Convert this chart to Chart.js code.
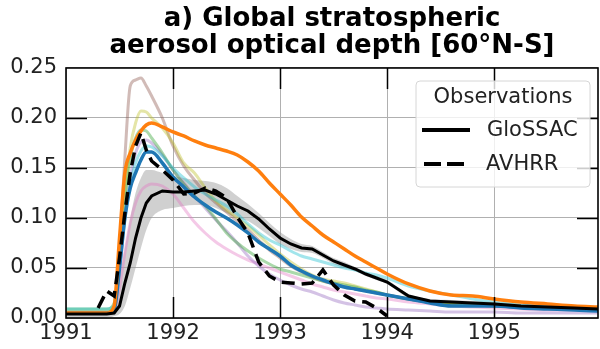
<!DOCTYPE html>
<html>
<head>
<meta charset="utf-8">
<script src="https://cdn.jsdelivr.net/npm/chart.js@4"></script>
<style>
  html, body { margin: 0; padding: 0; background: #ffffff; }
  #wrap { width: 600px; height: 349px; }
</style>
</head>
<body>
<div id="wrap"><canvas id="c" width="600" height="349"></canvas></div>
<script>
// Time axis shared by every series (decimal years)
const years = [
  1991.0, 1991.3, 1991.38, 1991.45, 1991.5, 1991.55, 1991.6, 1991.65, 1991.7, 1991.75, 1991.8, 1991.9,
  1992.0, 1992.1, 1992.2, 1992.3, 1992.4, 1992.5, 1992.6, 1992.7, 1992.8, 1992.9,
  1993.0, 1993.1, 1993.2, 1993.3, 1993.4, 1993.5, 1993.6, 1993.7, 1993.8, 1993.9,
  1994.0, 1994.2, 1994.4, 1994.6, 1994.8, 1995.0, 1995.25, 1995.5, 1995.75, 1995.97
];

// Observations
const glossac = [
  0.004,0.004,0.004,0.005,0.012,0.035,0.055,0.080,0.100,0.115,0.122,0.127,
  0.126,0.126,0.127,0.128,0.124,0.118,0.112,0.107,0.099,0.089,
  0.080,0.074,0.070,0.069,0.063,0.057,0.053,0.049,0.044,0.040,
  0.036,0.022,0.017,0.016,0.015,0.014,0.012,0.011,0.010,0.009
];
const glossacHigh = [
  0.006,0.006,0.006,0.010,0.040,0.070,0.100,0.125,0.140,0.148,0.148,0.145,
  0.142,0.140,0.138,0.137,0.135,0.130,0.122,0.114,0.105,0.095,
  0.086,0.079,0.074,0.072,0.066,0.060,0.056,0.051,0.046,0.042,
  0.038,0.024,0.019,0.018,0.017,0.016,0.014,0.013,0.012,0.011
];
const glossacLow = [
  0.000,0.000,0.000,0.002,0.004,0.012,0.030,0.050,0.070,0.088,0.100,0.108,
  0.110,0.112,0.113,0.113,0.110,0.105,0.100,0.097,0.090,0.082,
  0.074,0.069,0.066,0.065,0.060,0.054,0.050,0.047,0.042,0.038,
  0.034,0.020,0.015,0.014,0.013,0.012,0.010,0.009,0.008,0.007
];
const avhrr = [
  null,0.010,0.027,0.022,0.060,0.105,0.145,0.172,0.185,0.168,0.157,0.148,
  0.138,0.124,0.125,0.130,0.127,0.120,0.101,0.085,0.056,0.042,
  0.036,0.035,0.034,0.035,0.048,0.033,0.023,0.017,0.016,0.010,
  0.002,null,null,null,null,null,null,null,null,null
];

// Model runs
const modelBlue = [
  0.005,0.005,0.005,0.008,0.050,0.100,0.130,0.145,0.158,0.166,0.166,0.155,
  0.141,0.131,0.121,0.113,0.106,0.100,0.093,0.085,0.076,0.069,
  0.062,0.053,0.047,0.042,0.038,0.034,0.031,0.029,0.027,0.025,
  0.023,0.019,0.015,0.012,0.012,0.012,0.010,0.009,0.008,0.007
];
const modelOrange = [
  0.005,0.005,0.005,0.012,0.080,0.145,0.165,0.178,0.187,0.193,0.195,0.191,
  0.186,0.182,0.177,0.173,0.170,0.167,0.163,0.156,0.147,0.135,
  0.124,0.113,0.101,0.092,0.083,0.076,0.069,0.062,0.056,0.050,
  0.044,0.034,0.027,0.023,0.022,0.019,0.016,0.014,0.012,0.011
];
const modelBrown = [
  0.006,0.006,0.006,0.010,0.070,0.160,0.232,0.238,0.240,0.232,0.222,0.200,
  0.172,0.152,0.138,0.125,0.115,0.106,0.097,0.088,0.078,0.068,
  0.060,0.052,0.046,0.041,0.037,0.034,0.031,0.029,0.027,0.025,
  0.023,0.019,0.016,0.014,0.013,0.012,0.011,0.010,0.009,0.008
];
const modelOlive = [
  0.006,0.006,0.006,0.010,0.060,0.120,0.170,0.195,0.207,0.206,0.200,0.190,
  0.175,0.155,0.145,0.130,0.117,0.108,0.100,0.092,0.083,0.073,
  0.064,0.056,0.049,0.043,0.039,0.037,0.035,0.032,0.029,0.026,
  0.023,0.019,0.016,0.014,0.013,0.012,0.011,0.010,0.009,0.008
];
const modelGreen = [
  0.009,0.009,0.009,0.015,0.070,0.120,0.160,0.180,0.188,0.187,0.180,0.165,
  0.148,0.134,0.122,0.112,0.099,0.085,0.075,0.067,0.060,0.054,
  0.049,0.046,0.043,0.040,0.037,0.035,0.033,0.031,0.028,0.026,
  0.023,0.019,0.016,0.014,0.013,0.012,0.011,0.010,0.009,0.009
];
const modelPurple = [
  0.005,0.005,0.005,0.008,0.050,0.100,0.140,0.165,0.176,0.178,0.175,0.163,
  0.148,0.135,0.122,0.110,0.098,0.087,0.075,0.062,0.052,0.044,
  0.038,0.033,0.029,0.026,0.022,0.018,0.015,0.013,0.011,0.010,
  0.009,0.008,0.007,0.006,0.006,0.006,0.005,0.005,0.005,0.005
];
const modelCyan = [
  0.009,0.009,0.009,0.012,0.050,0.100,0.135,0.155,0.167,0.172,0.171,0.162,
  0.150,0.140,0.131,0.124,0.118,0.112,0.104,0.094,0.085,0.078,
  0.073,0.067,0.062,0.059,0.056,0.053,0.050,0.048,0.045,0.043,
  0.040,0.032,0.027,0.023,0.019,0.016,0.013,0.011,0.010,0.009
];
const modelPink = [
  0.005,0.005,0.005,0.007,0.030,0.065,0.095,0.115,0.127,0.132,0.134,0.132,
  0.124,0.110,0.096,0.085,0.076,0.069,0.063,0.058,0.054,0.050,
  0.046,0.042,0.038,0.034,0.031,0.028,0.026,0.024,0.022,0.020,
  0.019,0.016,0.014,0.012,0.011,0.010,0.009,0.008,0.008,0.007
];

// Axis ticks
const yearTicks = [1991, 1992, 1993, 1994, 1995];
const aodTicks = [0.00, 0.05, 0.10, 0.15, 0.20, 0.25];

const titleLines = ['a) Global stratospheric', 'aerosol optical depth [60°N-S]'];
const legendTitle = 'Observations';
const legendLabels = ['GloSSAC', 'AVHRR'];

const FONT = "'DejaVu Sans', 'Liberation Sans', sans-serif";
Chart.defaults.font.family = FONT;

const pts = vals => years.map((x, i) => ({ x: x, y: vals[i] }));

function modelLine(vals, color, order) {
  return {
    data: pts(vals), borderColor: color, borderWidth: 3, pointRadius: 0,
    cubicInterpolationMode: 'monotone', fill: false, order: order
  };
}

const datasets = [
  // 0: lower edge of GloSSAC range
  { data: pts(glossacLow), borderWidth: 0, borderColor: 'rgba(0,0,0,0)', pointRadius: 0,
    cubicInterpolationMode: 'monotone', fill: false, order: 30 },
  // 1: upper edge, filled down to the lower edge
  { data: pts(glossacHigh), borderWidth: 0, borderColor: 'rgba(0,0,0,0)', pointRadius: 0,
    cubicInterpolationMode: 'monotone', fill: { target: 0 },
    backgroundColor: 'rgba(150,150,150,0.45)', order: 29 },
  modelLine(modelBrown,  'rgba(140,86,75,0.4)',  12),
  modelLine(modelOlive,  'rgba(188,189,34,0.4)', 11),
  modelLine(modelPink,   'rgba(227,119,194,0.4)',10),
  modelLine(modelPurple, 'rgba(148,103,189,0.4)', 9),
  modelLine(modelGreen,  'rgba(44,160,44,0.4)',   8),
  modelLine(modelCyan,   'rgba(23,190,207,0.4)',  7),
  { data: pts(modelBlue), borderColor: '#1f77b4', borderWidth: 3.5, pointRadius: 0,
    cubicInterpolationMode: 'monotone', fill: false, order: 4 },
  { data: pts(modelOrange), borderColor: '#ff7f0e', borderWidth: 3.5, pointRadius: 0,
    cubicInterpolationMode: 'monotone', fill: false, order: 3 },
  { data: pts(glossac), borderColor: '#000000', borderWidth: 3, pointRadius: 0,
    tension: 0, fill: false, order: 1 },
  { data: pts(avhrr), borderColor: '#000000', borderWidth: 3.5, pointRadius: 0,
    borderDash: [13, 7], tension: 0, fill: false, spanGaps: false, order: 0 }
];

const TICK_LEN = 21;

// Frame: four spines plus inward-pointing tick marks on every side
const framePlugin = {
  id: 'frame',
  afterDatasetsDraw(chart) {
    const { ctx, chartArea: a, scales: { x, y } } = chart;
    ctx.save();
    ctx.strokeStyle = '#000';
    ctx.lineWidth = 1.5;
    ctx.beginPath();
    yearTicks.forEach(v => {
      const px = Math.round(x.getPixelForValue(v)) + 0.5;
      if (px <= a.left + 1 || px >= a.right - 1) return;
      ctx.moveTo(px, a.bottom); ctx.lineTo(px, a.bottom - TICK_LEN);
      ctx.moveTo(px, a.top); ctx.lineTo(px, a.top + TICK_LEN);
    });
    aodTicks.forEach(v => {
      const py = Math.round(y.getPixelForValue(v)) + 0.5;
      if (py <= a.top + 1 || py >= a.bottom - 1) return;
      ctx.moveTo(a.left, py); ctx.lineTo(a.left + TICK_LEN, py);
      ctx.moveTo(a.right, py); ctx.lineTo(a.right - TICK_LEN, py);
    });
    ctx.stroke();
    ctx.lineWidth = 1.6;
    ctx.strokeRect(a.left, a.top, a.right - a.left, a.bottom - a.top);
    ctx.restore();
  }
};

// Observations legend box in the upper right of the plot
const obsLegendPlugin = {
  id: 'obsLegend',
  afterDraw(chart) {
    const ctx = chart.ctx;
    const bx = 416, by = 81, bw = 174, bh = 106, r = 4;
    ctx.save();
    ctx.beginPath();
    ctx.moveTo(bx + r, by);
    ctx.lineTo(bx + bw - r, by); ctx.arcTo(bx + bw, by, bx + bw, by + r, r);
    ctx.lineTo(bx + bw, by + bh - r); ctx.arcTo(bx + bw, by + bh, bx + bw - r, by + bh, r);
    ctx.lineTo(bx + r, by + bh); ctx.arcTo(bx, by + bh, bx, by + bh - r, r);
    ctx.lineTo(bx, by + r); ctx.arcTo(bx, by, bx + r, by, r);
    ctx.closePath();
    ctx.fillStyle = 'rgba(255,255,255,0.8)';
    ctx.fill();
    ctx.strokeStyle = '#d6d6d6';
    ctx.lineWidth = 1;
    ctx.stroke();

    ctx.fillStyle = '#222';
    ctx.font = '21px ' + FONT;
    ctx.textBaseline = 'middle';
    ctx.textAlign = 'center';
    ctx.fillText(legendTitle, bx + bw / 2, by + 17);

    ctx.textAlign = 'left';
    ctx.strokeStyle = '#000';
    ctx.lineWidth = 4;
    ctx.beginPath();
    ctx.moveTo(422, 130); ctx.lineTo(470, 130);
    ctx.stroke();
    ctx.setLineDash([17, 6]);
    ctx.beginPath();
    ctx.moveTo(424, 164); ctx.lineTo(464, 164);
    ctx.stroke();
    ctx.setLineDash([]);
    ctx.fillText(legendLabels[0], 487, 131);
    ctx.fillText(legendLabels[1], 486, 165);
    ctx.restore();
  }
};

new Chart(document.getElementById('c'), {
  type: 'line',
  data: { datasets: datasets },
  plugins: [framePlugin, obsLegendPlugin],
  options: {
    responsive: false,
    animation: false,
    events: [],
    layout: { padding: { left: 0, right: 2, top: 0, bottom: 0 } },
    plugins: {
      legend: { display: false },
      tooltip: { enabled: false },
      title: {
        display: true,
        text: titleLines,
        fullSize: false,
        color: '#000',
        font: { size: 26, weight: 'bold', lineHeight: 1.04, family: FONT },
        padding: { top: 5.5, bottom: 8.4 }
      }
    },
    scales: {
      x: {
        type: 'linear',
        min: 1991, max: 1995.97,
        afterFit(scale) { scale.height = 31; },
        afterBuildTicks(scale) { scale.ticks = yearTicks.map(v => ({ value: v })); },
        grid: { color: '#b0b0b0', lineWidth: 1, drawTicks: false },
        border: { display: false },
        ticks: {
          autoSkip: false, maxRotation: 0, padding: 3, color: '#222',
          font: { size: 21, family: FONT },
          callback: v => String(v)
        }
      },
      y: {
        type: 'linear',
        min: 0, max: 0.25,
        afterFit(scale) { scale.width = 66; },
        afterBuildTicks(scale) { scale.ticks = aodTicks.map(v => ({ value: v })); },
        grid: { color: '#b0b0b0', lineWidth: 1, drawTicks: false },
        border: { display: false },
        ticks: {
          padding: 9, color: '#222',
          font: { size: 21, family: FONT },
          callback: v => Number(v).toFixed(2)
        }
      }
    }
  }
});
</script>
</body>
</html>
